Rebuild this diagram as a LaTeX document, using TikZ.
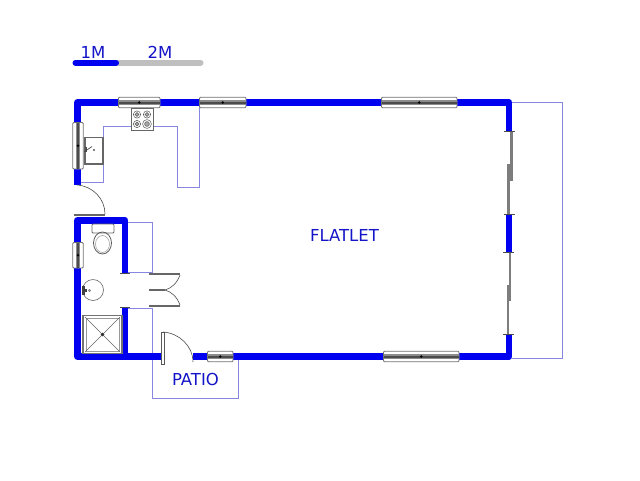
\documentclass[tikz,border=0pt]{standalone}
\usepackage{fontspec}
\setmainfont{DejaVu Sans}
\definecolor{wallblue}{RGB}{0,0,240}
\definecolor{lineblue}{RGB}{135,135,225}
\definecolor{labelblue}{RGB}{20,20,200}
\definecolor{wingrey}{RGB}{125,125,125}
\tikzset{
  wall/.style={draw=wallblue,line width=6.8pt,line join=round},
  outline/.style={draw=lineblue,line width=1pt},
  label/.style={text=labelblue,font=\fontsize{16.5}{18}\selectfont,inner sep=0pt},
  fix/.style={draw=black!65,line width=0.6pt},
  leaf/.style={draw=black!60,line width=2pt},
  slide/.style={draw=wingrey,line width=2.4pt},
  tick/.style={draw=black!70,line width=1pt}
}
\newcommand{\hwin}[3]{% x1 x2 y
  \fill[white,draw=black!55,line width=0.8pt,rounded corners=1pt] (#1,#3-5.2) rectangle (#2,#3+5.2);
  \fill[black!45] (#1,#3-2.4) rectangle (#2,#3+2.4);
  \fill[black!70] (#1,#3-1) rectangle (#2,#3+1);
  \fill[black] ({(#1+#2)/2},#3) circle (1.4);
}
\newcommand{\vwin}[3]{% y1 y2 x
  \fill[white,draw=black!55,line width=0.8pt,rounded corners=1pt] (#3-5.2,#1) rectangle (#3+5.2,#2);
  \fill[black!45] (#3-2.4,#1) rectangle (#3+2.4,#2);
  \fill[black!70] (#3-1,#1) rectangle (#3+1,#2);
  \fill[black] (#3,{(#1+#2)/2}) circle (1.4);
}
\newcommand{\burner}[3]{%
  \draw[fix,line width=0.5pt] (#1,#2) circle (#3);
  \draw[fix,line width=0.5pt,fill=black!35] (#1,#2) circle (#3*0.55);
}
\begin{document}
\begin{tikzpicture}[x=1pt,y=-1pt]
\useasboundingbox (0,0) rectangle (640,480);
\fill[white] (0,0) rectangle (640,480);

% scale bar
\draw[line width=6pt,draw=black!25,line cap=round] (118,62.7) -- (200.5,62.7);
\draw[line width=6pt,draw=wallblue,line cap=round] (75.5,62.7) -- (116,62.7);
\node[label] (m1) at (93,52) {1M};
\node[label] (m2) at (160,52) {2M};

% thin outlines
\draw[outline] (80,182) -- (103,182) -- (103,126) -- (177,126) -- (177,187) -- (199,187) -- (199,106);
\draw[outline] (127,222) -- (152,222) -- (152,272) -- (127,272);
\draw[outline] (127,308) -- (152,308) -- (152,398) -- (238,398) -- (238,358);
\draw[outline] (512,102) -- (562,102) -- (562,358) -- (512,358);

% walls
\draw[wall] (77.5,122.5) -- (77.5,102.5) -- (118,102.5);
\draw[wall] (160,102.5) -- (199,102.5);
\draw[wall] (246,102.5) -- (381,102.5);
\draw[wall] (457,102.5) -- (509,102.5) -- (509,131);
\draw[wall] (77.5,169) -- (77.5,185);
\draw[wall] (125,273) -- (125,220.5) -- (77.5,220.5) -- (77.5,356.5) -- (161,356.5);
\draw[wall] (125,307) -- (125,356.5);
\draw[wall] (193,356.5) -- (207,356.5);
\draw[wall] (233,356.5) -- (383,356.5);
\draw[wall] (459,356.5) -- (509,356.5) -- (509,334);
\draw[wall] (509,214) -- (509,252);

% windows
\hwin{118.5}{160}{102.5}
\hwin{199.5}{246}{102.5}
\hwin{381.5}{457}{102.5}
\hwin{207.5}{233}{356.5}
\hwin{383.5}{459}{356.5}
\vwin{122.5}{169}{78}
\vwin{242.5}{268}{78}

% sliding doors, right wall
\draw[slide] (511.5,131) -- (511.5,181);
\draw[slide] (508.5,164) -- (508.5,214);
\draw[slide] (510,252) -- (510,301);
\draw[slide] (507.8,285) -- (507.8,334);
\draw[tick] (504,131) -- (515,131);
\draw[tick] (504,214) -- (515,214);
\draw[tick] (503,252) -- (514,252);
\draw[tick] (503,334) -- (514,334);

% entrance door, top-left
\draw[leaf] (73.5,215) -- (105,215);
\draw[black!70,line width=0.6pt] (77,185) .. controls (93,186) and (105,199) .. (105,214);

% bathroom wall ends
\draw[tick] (120,273) -- (130,273);
\draw[tick] (120,307) -- (130,307);

% double door
\draw[leaf,line width=1.4pt] (149,274) -- (180,274);
\draw[leaf,line width=1.4pt] (149,306) -- (180,306);
\draw[leaf,line width=1.4pt] (149,290) -- (165,290);
\draw[black!70,line width=0.6pt] (180,275) .. controls (177,283) and (172,288) .. (165,290);
\draw[black!70,line width=0.6pt] (180,305) .. controls (177,297) and (172,292) .. (165,290);

% patio door
\fill[white,draw=black!65,line width=0.8pt] (161.5,332) rectangle (164.5,364);
\draw[black!70,line width=0.6pt] (163,332) .. controls (179,333) and (193,346) .. (193,362);

% stove
\fill[white,draw=black!60,line width=0.8pt] (131,108) rectangle (153,130);
\burner{137}{114.5}{3.6}
\burner{147}{114.5}{3.6}
\burner{137}{124}{3.6}
\burner{147}{124}{4.4}

% sink
\draw[draw=black!60,line width=1.2pt,fill=white] (85,137.5) rectangle (103,164);
\fill[black!70] (84.5,147) rectangle (87,152);
\draw[black!70,line width=0.7pt] (84,152) -- (92,146.5);
\fill[black] (94,150) circle (0.9);

% toilet
\fill[white,draw=black!60,line width=0.8pt,rounded corners=1pt] (92,224) rectangle (114,233);
\draw[black!65,line width=0.8pt] (102.5,243) ellipse (9 and 11);
\draw[black!40,line width=0.5pt] (102.5,244) ellipse (7 and 8.5);

% basin
\draw[black!60,line width=0.6pt] (93,290) circle (10.5);
\fill[black!75] (81.5,286) rectangle (84.5,295);
\fill[black!75] (82,289) rectangle (87,291.5);
\draw[black!60,line width=0.4pt] (89.5,290.5) circle (1);

% shower
\draw[black!55,line width=1.2pt,fill=white] (83,315.5) rectangle (122,353.5);
\draw[black!40,line width=0.6pt] (86,318) rectangle (119,351);
\draw[black!60,line width=0.6pt] (85,317) -- (120,352) (120,317) -- (85,352);
\fill[black!80] (102.5,334.5) circle (1.8);

% labels
\node[label] (flatlet) at (344.5,235) {FLATLET};
\node[label] (patio) at (195.5,379.5) {PATIO};
\end{tikzpicture}
\end{document}
